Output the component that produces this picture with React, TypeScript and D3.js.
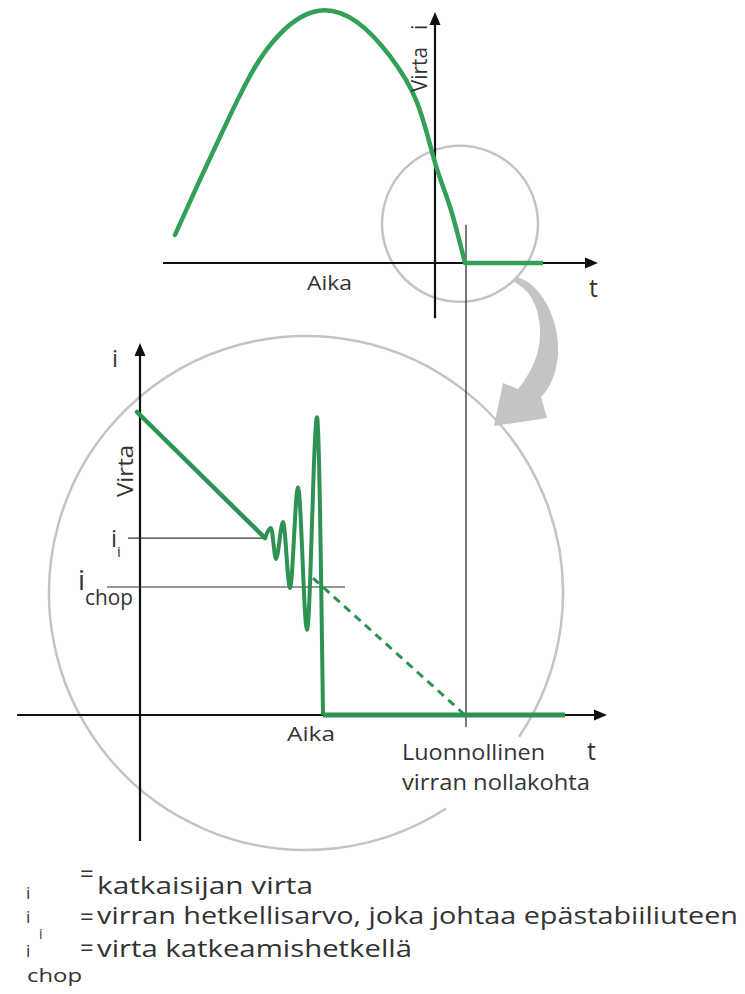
import React from "react";
import * as d3 from "d3";

// ---- Top chart (whole half-wave), units: t (time), i (relative current)
const topT = [-26.0, -23.5, -20.2, -16.8, -12.2, -7.8, -4.5, -1.8, 0, 1.5, 3.0];
const topI = [0.112, 0.332, 0.612, 0.852, 1.0, 0.96, 0.824, 0.64, 0.4, 0.224, 0];
const topFlatT = [3.0, 10.8];

// ---- Lower chart (zoomed view)
const rampT = [-0.3, 12.5];
const rampI = [1.0, 0.584];
const oscT = [12.5, 13.1, 13.6, 14.3, 15.0, 15.8, 16.7, 17.7, 18.3];
const oscI = [0.584, 0.617, 0.515, 0.637, 0.419, 0.752, 0.281, 0.983, 0];
const lowFlatT = [18.3, 42.5];
const dashT = [17.3, 32.5];
const dashI = [0.452, 0];
const iiLevel = 0.584;
const iiSpan = [-1.2, 12.5];
const ichopLevel = 0.4224;
const ichopSpan = [-3.3, 20.5];
const naturalZeroT = 32.6;

const legendSymbols = ["i", "i", "i"];
const legendSubs = ["", "i", "chop"];
const legendTexts = [
  "katkaisijan virta",
  "virran hetkellisarvo, joka johtaa epästabiiliuteen",
  "virta katkeamishetkellä",
];

const GREEN_TOP = "#33a059";
const GREEN = "#2e9352";
const GRAY = "#c4c4c4";
const TXT = "#333";
const FONT = "'Open Sans', sans-serif";

export default function App() {
  const xTop = d3.scaleLinear().domain([-27.2, 16.3]).range([163, 598]);
  const yTop = d3.scaleLinear().domain([0, 1]).range([263, 12]);
  const xLow = d3.scaleLinear().domain([-12.3, 46.7]).range([17, 607]);
  const yLow = d3.scaleLinear().domain([0, 1]).range([715, 412]);

  const topPts = topT.map((t, k) => [t, topI[k]] as [number, number]);
  const topLine = d3
    .line<[number, number]>()
    .x((d) => xTop(d[0]))
    .y((d) => yTop(d[1]))
    .curve(d3.curveNatural);
  const linTop = d3
    .line<[number, number]>()
    .x((d) => xTop(d[0]))
    .y((d) => yTop(d[1]));
  const linLow = d3
    .line<[number, number]>()
    .x((d) => xLow(d[0]))
    .y((d) => yLow(d[1]));
  const oscLine = d3
    .line<[number, number]>()
    .x((d) => xLow(d[0]))
    .y((d) => yLow(d[1]))
    .curve(d3.curveMonotoneX);

  const oscPts = oscT.map((t, k) => [t, oscI[k]] as [number, number]);

  const ax = {
    topX0: xTop(-27.2),
    topX1: xTop(16.3),
    topY0: yTop(-0.22),
    topY1: yTop(1.0),
    lowX0: xLow(-12.3),
    lowX1: xLow(46.7),
    lowY0: yLow(-0.416),
    lowY1: yLow(1.228),
  };

  const arrowH = (x: number, y: number, dir: "right" | "up") =>
    dir === "right"
      ? `M${x},${y} L${x - 13},${y - 5.5} L${x - 13},${y + 5.5} Z`
      : `M${x},${y} L${x - 5.5},${y + 13} L${x + 5.5},${y + 13} Z`;

  const bigC = { cx: 306, cy: 593, r: 257 };
  const gapA0 = (34 * Math.PI) / 180;
  const gapA1 = (57 * Math.PI) / 180;
  const p0 = [bigC.cx + bigC.r * Math.cos(gapA1), bigC.cy + bigC.r * Math.sin(gapA1)];
  const p1 = [bigC.cx + bigC.r * Math.cos(gapA0), bigC.cy + bigC.r * Math.sin(gapA0)];
  const bigArc = `M${p0[0]},${p0[1]} A${bigC.r},${bigC.r} 0 1 1 ${p1[0]},${p1[1]}`;

  const smallC = { cx: xTop(2.5), cy: yTop(0.156), r: 78 };
  const vLineX = xLow(naturalZeroT);

  return (
    <svg
      width={745}
      height={994}
      style={{ position: "absolute", left: 0, top: 0, background: "#fff" }}
      fontFamily={FONT}
    >
      <rect width={745} height={994} fill="#fff" />

      {/* circles and callout arrow */}
      <circle cx={smallC.cx} cy={smallC.cy} r={smallC.r} fill="none" stroke={GRAY} strokeWidth={2.5} />
      <path d={bigArc} fill="none" stroke={GRAY} strokeWidth={2.5} />
      <path
        d="M516,277 C540,282 560,318 558,355 C556,375 550,388 541,397 L547,418 L494,426 L503,383 L518,389 C532,372 541,352 540,330 C539,306 530,289 512,281 Z"
        fill={GRAY}
      />

      {/* vertical line: natural current zero */}
      <line x1={vLineX} x2={vLineX} y1={yTop(0.152)} y2={yLow(-0.04)} stroke="#222" strokeWidth={1.2} />

      {/* ---------- top chart ---------- */}
      <line x1={ax.topX0} x2={ax.topX1 - 10} y1={yTop(0)} y2={yTop(0)} stroke="#111" strokeWidth={2.2} />
      <path d={arrowH(ax.topX1, yTop(0), "right")} fill="#111" />
      <line x1={xTop(0)} x2={xTop(0)} y1={ax.topY0} y2={ax.topY1 + 10} stroke="#111" strokeWidth={2.2} />
      <path d={arrowH(xTop(0), ax.topY1, "up")} fill="#111" />

      <path d={topLine(topPts) || ""} fill="none" stroke={GREEN_TOP} strokeWidth={4.5} strokeLinecap="round" />
      <path
        d={linTop(topFlatT.map((t) => [t, 0] as [number, number])) || ""}
        fill="none"
        stroke={GREEN_TOP}
        strokeWidth={4.5}
      />

      <text x={307} y={290} fontSize={20} fill={TXT} textLength={45} lengthAdjust="spacingAndGlyphs">Aika</text>
      <text x={589} y={297} fontSize={25} fill={TXT}>t</text>
      <text transform="translate(427,92) rotate(-90)" fontSize={21} fill={TXT} textLength={45} lengthAdjust="spacingAndGlyphs">Virta</text>
      <text transform="translate(427,30) rotate(-90)" fontSize={21} fill={TXT}>i</text>

      {/* ---------- lower chart ---------- */}
      <line x1={ax.lowX0} x2={ax.lowX1 - 10} y1={yLow(0)} y2={yLow(0)} stroke="#111" strokeWidth={2.2} />
      <path d={arrowH(ax.lowX1, yLow(0), "right")} fill="#111" />
      <line x1={xLow(0)} x2={xLow(0)} y1={ax.lowY0} y2={ax.lowY1 + 10} stroke="#111" strokeWidth={2.2} />
      <path d={arrowH(xLow(0), ax.lowY1, "up")} fill="#111" />

      <line x1={xLow(iiSpan[0])} x2={xLow(iiSpan[1])} y1={yLow(iiLevel)} y2={yLow(iiLevel)} stroke="#333" strokeWidth={1.2} />
      <line x1={xLow(ichopSpan[0])} x2={xLow(ichopSpan[1])} y1={yLow(ichopLevel)} y2={yLow(ichopLevel)} stroke="#333" strokeWidth={1.2} />

      <path
        d={linLow(dashT.map((t, k) => [t, dashI[k]] as [number, number])) || ""}
        fill="none"
        stroke={GREEN}
        strokeWidth={3}
        strokeDasharray="8 6"
      />

      <path
        d={linLow(rampT.map((t, k) => [t, rampI[k]] as [number, number])) || ""}
        fill="none"
        stroke={GREEN}
        strokeWidth={4.5}
        strokeLinecap="round"
      />
      <path d={oscLine(oscPts) || ""} fill="none" stroke={GREEN} strokeWidth={4} strokeLinejoin="round" />
      <path
        d={linLow(lowFlatT.map((t) => [t, 0] as [number, number])) || ""}
        fill="none"
        stroke={GREEN}
        strokeWidth={5}
      />

      <text x={115} y={367} fontSize={24} fill={TXT} textAnchor="middle">i</text>
      <text transform="translate(133,497) rotate(-90)" fontSize={22} fill={TXT} textLength={52} lengthAdjust="spacingAndGlyphs">Virta</text>
      <text x={111} y={547} fontSize={24} fill={TXT}>i</text>
      <text x={117} y={557} fontSize={15} fill={TXT}>i</text>
      <text x={78} y={590} fontSize={28} fill={TXT}>i</text>
      <text x={85} y={605} fontSize={22} fill={TXT} textLength={48} lengthAdjust="spacingAndGlyphs">chop</text>
      <text x={287} y={741} fontSize={20} fill={TXT} textLength={48} lengthAdjust="spacingAndGlyphs">Aika</text>
      <text x={402} y={760} fontSize={21} fill={TXT} textLength={143} lengthAdjust="spacingAndGlyphs">Luonnollinen</text>
      <text x={402} y={790} fontSize={21} fill={TXT} textLength={188} lengthAdjust="spacingAndGlyphs">virran nollakohta</text>
      <text x={587} y={760} fontSize={25} fill={TXT}>t</text>

      {/* ---------- legend ---------- */}
      <g fill={TXT}>
        <text x={26} y={899} fontSize={17}>{legendSymbols[0]}</text>
        <text x={80} y={882} fontSize={24}>=</text>
        <text x={97} y={894} fontSize={23} textLength={216} lengthAdjust="spacingAndGlyphs">{legendTexts[0]}</text>

        <text x={26} y={923} fontSize={17}>{legendSymbols[1]}</text>
        <text x={39} y={939} fontSize={14}>{legendSubs[1]}</text>
        <text x={80} y={925} fontSize={24}>=</text>
        <text x={97} y={924} fontSize={23} textLength={641} lengthAdjust="spacingAndGlyphs">{legendTexts[1]}</text>

        <text x={26} y={957} fontSize={17}>{legendSymbols[2]}</text>
        <text x={27} y={982} fontSize={18} textLength={55} lengthAdjust="spacingAndGlyphs">{legendSubs[2]}</text>
        <text x={80} y={956} fontSize={24}>=</text>
        <text x={97} y={957} fontSize={23} textLength={315} lengthAdjust="spacingAndGlyphs">{legendTexts[2]}</text>
      </g>
    </svg>
  );
}
